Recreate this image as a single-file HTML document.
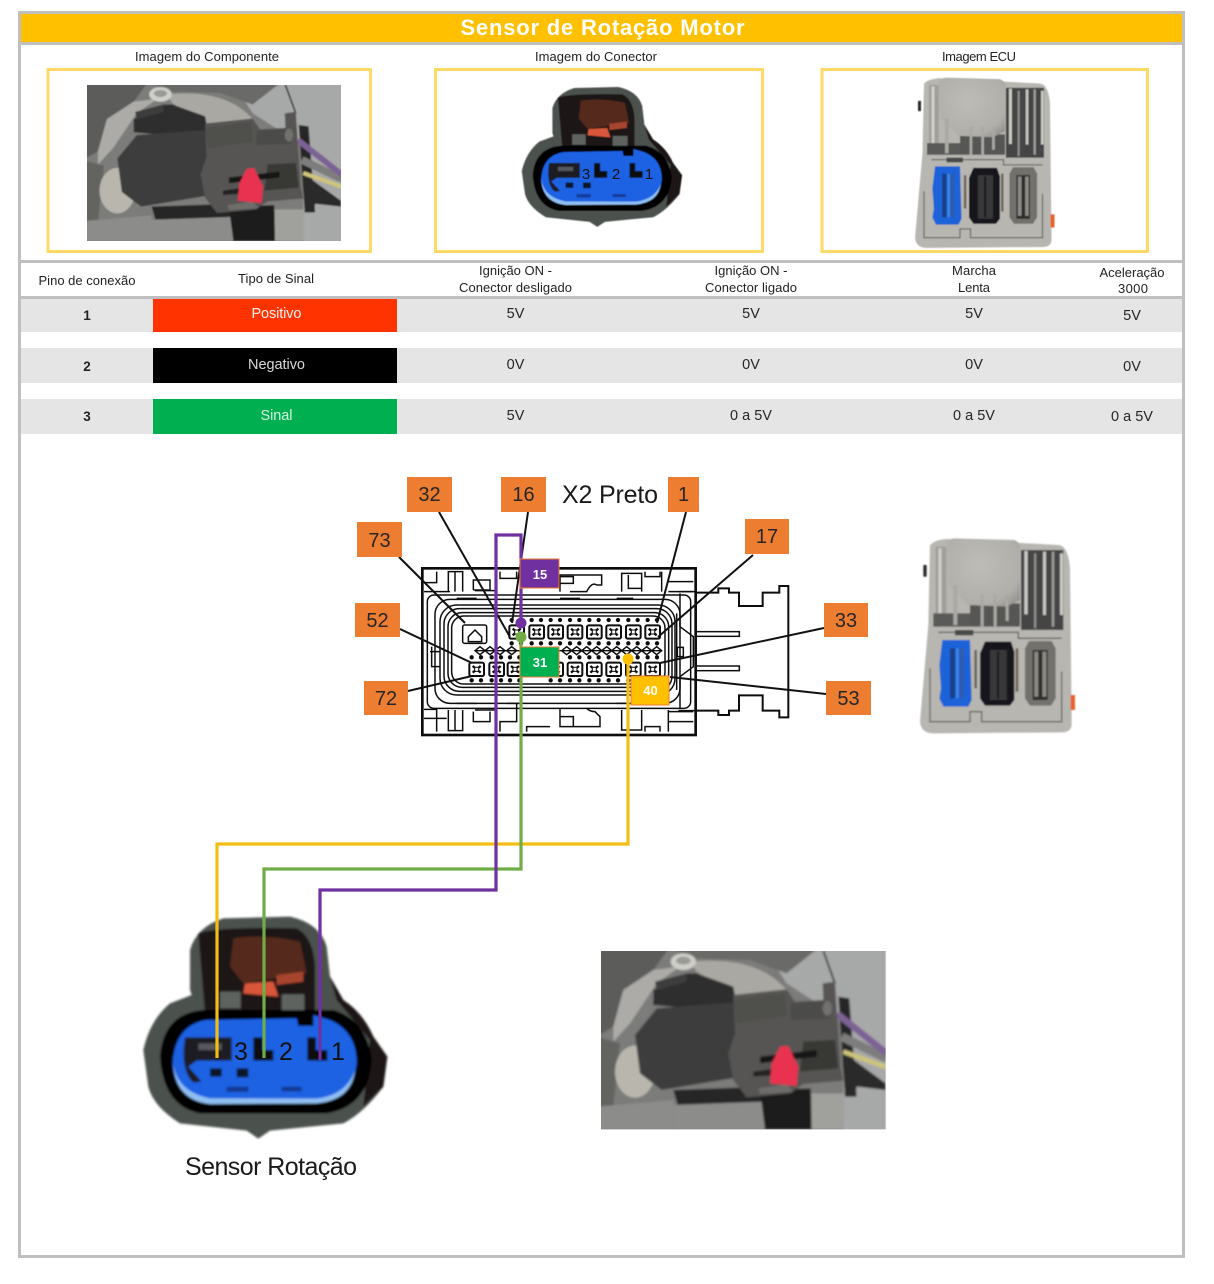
<!DOCTYPE html>
<html><head><meta charset="utf-8"><style>
html,body{margin:0;padding:0;background:#fff}
svg{display:block}
text{font-family:"Liberation Sans",sans-serif;fill:#222}
.t{font-size:13px;text-anchor:middle}
.v{font-size:14.5px;text-anchor:middle;fill:#262626}
.h{font-size:13.500px;text-anchor:middle}
.o{font-size:20px;text-anchor:middle;fill:#262626}
.s{font-size:13px;font-weight:bold;text-anchor:middle;fill:#fff}
</style></head><body>
<svg width="1214" height="1284" viewBox="0 0 1214 1284" xmlns="http://www.w3.org/2000/svg">
<defs>
<filter id="b1" x="-5%" y="-5%" width="110%" height="110%"><feGaussianBlur stdDeviation="3"/></filter>
<filter id="b2" x="-5%" y="-5%" width="110%" height="110%"><feGaussianBlur stdDeviation="2"/></filter>
<filter id="b3" x="-2%" y="-2%" width="104%" height="104%"><feGaussianBlur stdDeviation="1.100"/></filter>
<radialGradient id="lid" cx=".45" cy=".4" r=".75"><stop offset="0" stop-color="#bdbcb7"/><stop offset=".75" stop-color="#b0afaa"/><stop offset="1" stop-color="#8f8e89"/></radialGradient>
<clipPath id="pc"><rect x="33" y="33" width="854" height="535"/></clipPath>

<g id="photo"><g clip-path="url(#pc)"><g filter="url(#b1)">
<rect x="20" y="20" width="880" height="560" fill="#7c7c7a"/>
<polygon points="520,20 900,20 900,580 760,580 760,240 590,130" fill="#a7a8a8"/>
<polygon points="20,20 240,20 190,90 100,150 70,260 20,290" fill="#5c5c5a"/>
<polygon points="240,20 690,20 590,100 480,60 300,55" fill="#6a6a68"/>
<polygon points="190,90 270,80 200,130 120,250 70,305 70,260 100,150" fill="#acaba7"/>
<path d="M300,65 Q500,45 590,150 L430,170 L320,95Z" fill="#aaa8a2"/>
<polygon points="20,290 90,310 70,500 20,500" fill="#636361"/>
<polygon points="20,500 250,480 250,568 20,568" fill="#8c8c8a"/>
<ellipse cx="135" cy="395" rx="60" ry="78" fill="#b9b7ad"/>
<polygon points="190,150 290,100 320,100 430,140 440,195 300,205 190,195" fill="#2e2f2f"/>
<polygon points="195,125 290,100 290,125 200,150" fill="#3c3c3c"/>
<polygon points="135,285 200,205 432,188 442,412 215,450 150,400" fill="#3e3e3c"/>
<polygon points="250,450 525,440 525,490 265,502" fill="#282828"/>
<polygon points="250,495 525,485 525,568 250,568" fill="#8c8c8a"/>
<polygon points="510,450 662,445 665,568 525,568" fill="#1e1e1e"/>
<polygon points="665,460 762,460 762,568 665,568" fill="#a0a09c"/>
<polygon points="745,170 778,175 800,470 765,470" fill="#262626"/>
<polygon points="765,340 887,430 887,450 800,440 795,470 765,470" fill="#2c2c2c"/>
<line x1="755" y1="290" x2="890" y2="355" stroke="#7d7d7d" stroke-width="26"/>
<line x1="742" y1="222" x2="890" y2="340" stroke="#7d6295" stroke-width="20"/>
<line x1="760" y1="335" x2="890" y2="382" stroke="#cfc47a" stroke-width="14"/>
<line x1="700" y1="33" x2="735" y2="130" stroke="#161616" stroke-width="5"/>
<polygon points="430,165 590,148 615,185 700,180 698,130 735,125 752,385 760,422 640,432 600,460 470,472 430,420 415,340 435,280" fill="#565553"/>
<polygon points="605,190 700,182 720,235 600,240" fill="#4c4b49"/>
<polygon points="430,180 585,160 590,228 440,250" fill="#504f4c"/>
<polygon points="640,305 735,300 745,385 630,395" fill="#383836"/>
<polygon points="510,350 680,330 680,350 510,370" fill="#161616"/>
<polygon points="490,395 560,385 560,405 490,410" fill="#222"/>
<polygon points="505,445 590,432 610,455 510,462" fill="#6e6d6b"/>
<polygon points="570,320 595,318 625,380 620,438 540,430 545,370" fill="#e8304f"/>
<ellipse cx="280" cy="65" rx="38" ry="25" fill="#d0d0cb"/>
<ellipse cx="280" cy="62" rx="22" ry="12" fill="#9a9a96"/>
<ellipse cx="712" cy="205" rx="14" ry="22" fill="#72716e"/>
</g></g></g>

<g id="conn"><g filter="url(#b1)">
<path d="M180,270 L180,150 Q200,80 280,55 L480,50 Q570,70 590,140 L600,230 L640,300 Q700,340 730,410 L772,470 L760,560 Q700,640 640,670 L420,692 L385,716 L350,692 L150,670 Q70,620 55,560 L40,450 Q60,360 120,310 L185,285 Z" fill="#4c514e"/>
<path d="M600,230 L640,300 Q700,340 730,410 L772,470 L760,560 L700,620 L720,420 L620,300Z" fill="#1e1512"/>
<path d="M205,100 Q260,80 500,85 Q550,110 555,200 L555,340 L225,340Z" fill="#1a1513"/>
<path d="M310,115 Q400,100 510,125 L530,220 L340,250 L300,200Z" fill="#55291d"/>
<path d="M345,250 L430,245 L445,290 L340,280Z" fill="#d9573a"/>
<path d="M440,225 L520,215 L520,245 L440,255Z" fill="#a8452d"/>
<rect x="270" y="275" width="62" height="50" fill="#5e6360"/>
<rect x="455" y="283" width="68" height="50" fill="#5e6360"/>
<path d="M90,470 Q100,340 220,330 L610,330 Q710,360 725,480 Q715,620 590,640 L210,640 Q100,620 90,470Z" fill="#040404"/>
<path d="M128,490 Q135,375 230,360 L500,355 L505,378 L550,378 L550,345 L600,360 Q680,395 680,490 Q665,600 560,608 L240,610 Q135,600 128,490Z" fill="#1f62e3"/>
<path d="M130,490 Q140,575 240,595 L560,596 Q650,585 675,510 Q665,600 560,610 L240,612 Q135,600 130,490Z" fill="#8fc0f2"/>
<path d="M165,412 L305,412 L305,482 L200,482 L175,500 L215,545 L190,548 Q150,510 165,412Z" fill="#1c1e24"/>
<rect x="205" y="430" width="70" height="20" fill="#55585c"/>
<path d="M370,412 L398,412 L398,450 L430,450 L430,482 L370,482Z" fill="#070a10"/>
<path d="M532,412 L558,412 L558,450 L592,450 L592,482 L532,482Z" fill="#070a10"/>
<rect x="240" y="505" width="35" height="25" fill="#0d1526"/>
<rect x="320" y="505" width="35" height="27" fill="#0d1526"/>
<rect x="290" y="560" width="65" height="16" fill="#123a96"/>
<rect x="455" y="560" width="60" height="14" fill="#123a96"/>
</g></g>

<g id="ecu"><g filter="url(#b2)">
<path d="M75,62 Q85,45 125,42 L460,60 Q490,62 495,130 L500,600 Q498,622 470,622 L85,625 Q48,625 45,590 L70,300Z" fill="#b8b6b1"/>
<rect x="55" y="120" width="10" height="35" fill="#2c2c2c"/>
<rect x="92" y="65" width="32" height="210" fill="#a09f99"/>
<rect x="100" y="70" width="10" height="200" fill="#cfcec9"/>
<rect x="85" y="265" width="110" height="40" fill="#5a5a58"/>
<rect x="195" y="235" width="150" height="70" fill="#565654"/>
<path d="M125,58 Q130,40 150,40 L325,45 Q345,48 345,75 L345,225 L305,245 L190,240 L130,180Z" fill="url(#lid)"/>
<rect x="348" y="75" width="127" height="240" fill="#454544"/>
<rect x="358" y="78" width="10" height="190" fill="#c9c9c5"/><rect x="387" y="85" width="7" height="225" fill="#8f8e8b"/>
<rect x="414" y="80" width="9" height="190" fill="#c6c6c2"/><rect x="440" y="80" width="8" height="225" fill="#9b9a97"/>
<rect x="465" y="85" width="9" height="185" fill="#c9c9c5"/>
<rect x="227" y="208" width="9" height="100" fill="#aaa9a4"/><rect x="266" y="208" width="9" height="100" fill="#aaa9a4"/><rect x="302" y="208" width="9" height="80" fill="#aaa9a4"/>
<rect x="145" y="180" width="12" height="120" fill="#aaa9a4"/>
<path d="M100,322 H340 V340 H470 M75,430 V590 H195 V560 H230 V590 H350 L370,590 H470 V440" fill="none" stroke="#66665f" stroke-width="4"/>
<rect x="150" y="315" width="55" height="16" fill="#4a4a48"/>
<path d="M112,345 H195 L200,525 L190,545 H115 L103,520 L108,490 L103,420Z" fill="#1e63d9"/>
<rect x="135" y="370" width="15" height="150" fill="#1e4088"/><rect x="153" y="370" width="8" height="150" fill="#3d86e4"/><rect x="164" y="370" width="12" height="150" fill="#2f5cab"/>
<rect x="208" y="375" width="8" height="115" fill="#6d6558"/>
<rect x="332" y="370" width="8" height="130" fill="#6d6558"/>
<path d="M240,350 H318 L328,380 V525 L315,542 H240 L225,520 V385Z" fill="#17171a"/>
<rect x="255" y="375" width="50" height="150" fill="#37373a"/>
<rect x="276" y="380" width="6" height="140" fill="#121214"/>
<path d="M372,348 H440 L452,370 V520 L438,542 H375 L360,520 V370Z" fill="#73716c"/>
<rect x="383" y="375" width="45" height="150" fill="#2f2f2e"/>
<rect x="388" y="380" width="12" height="135" fill="#8c8a85"/><rect x="412" y="380" width="12" height="135" fill="#8c8a85"/>
<rect x="497" y="510" width="13" height="45" fill="#e8602c"/>
</g></g>

<g id="cell" fill="none" stroke="#111" stroke-width="6">
<rect x="-22" y="-20" width="44" height="40" rx="5"/>
<path d="M-12,-10 L12,10 M12,-10 L-12,10" stroke-width="7"/>
<rect x="-6" y="-6" width="12" height="12" fill="#fff" stroke-width="3"/>
</g>
<g id="dots" fill="#111">
<circle cx="-15" r="6.500"/><circle cx="13" r="6.500"/>
</g>
<g id="zig" fill="none" stroke="#111" stroke-width="4.500"><path d="M-15,0 L0,-12 L15,0 L0,12Z"/></g>
</defs>

<!-- frame -->
<rect x="19.500" y="12.500" width="1164" height="1244" fill="#fff" stroke="#bfbfbf" stroke-width="3"/>
<rect x="21" y="14" width="1161" height="28" fill="#ffc000"/>
<rect x="21" y="42" width="1161" height="3" fill="#bfbfbf"/>
<text x="602.500" y="35" font-size="22" font-weight="bold" text-anchor="middle" style="fill:#fff" textLength="284" lengthAdjust="spacing">Sensor de Rotação Motor</text>

<text x="207" y="61" class="t" textLength="144">Imagem do Componente</text>
<text x="596" y="61" class="t" textLength="122">Imagem do Conector</text>
<text x="979" y="61" class="t" textLength="74">Imagem ECU</text>

<rect x="48" y="69.500" width="322.500" height="182" fill="none" stroke="#ffd966" stroke-width="3"/>
<rect x="435.500" y="69.500" width="327" height="182" fill="none" stroke="#ffd966" stroke-width="3"/>
<rect x="822" y="69.500" width="325.500" height="182" fill="none" stroke="#ffd966" stroke-width="3"/>

<use href="#photo" transform="translate(77.200,75.400) scale(.2974,.2916)"/>
<use href="#conn" transform="translate(513,76.500) scale(.219,.21)"/>
<text x="586" y="179" font-size="15" text-anchor="middle" style="fill:#111">3</text>
<text x="616" y="179" font-size="15" text-anchor="middle" style="fill:#111">2</text>
<text x="649" y="179" font-size="15" text-anchor="middle" style="fill:#111">1</text>
<use href="#ecu" transform="translate(901.500,66) scale(.3,.291)"/>

<!-- table -->
<rect x="21" y="260" width="1161" height="3" fill="#bfbfbf"/>
<rect x="21" y="296" width="1161" height="3" fill="#bfbfbf"/>
<rect x="21" y="299" width="1161" height="33" fill="#e5e5e5"/>
<rect x="21" y="348" width="1161" height="35" fill="#e5e5e5"/>
<rect x="21" y="399" width="1161" height="35" fill="#e5e5e5"/>
<rect x="153" y="299" width="244" height="33" fill="#ff3300"/>
<rect x="153" y="348" width="244" height="35" fill="#000"/>
<rect x="153" y="399" width="244" height="35" fill="#00b050"/>

<text x="87" y="285" class="t" textLength="97">Pino de conexão</text>
<text x="276" y="283" class="t" textLength="76">Tipo de Sinal</text>
<text x="515.500" y="275" class="t" textLength="73">Ignição ON -</text>
<text x="515.500" y="292" class="t" textLength="113">Conector desligado</text>
<text x="751" y="275" class="t" textLength="73">Ignição ON -</text>
<text x="751" y="292" class="t" textLength="92">Conector ligado</text>
<text x="974" y="275" class="t" textLength="44">Marcha</text>
<text x="974" y="292" class="t" textLength="32">Lenta</text>
<text x="1132" y="277" class="t" textLength="65">Aceleração</text>
<text x="1133" y="293" class="t" textLength="30">3000</text>

<text x="87" y="320" class="h" font-weight="bold">1</text>
<text x="276.500" y="318" class="v" style="fill:#f2f2f2" textLength="50">Positivo</text>
<text x="515.500" y="318" class="v">5V</text><text x="751" y="318" class="v">5V</text><text x="974" y="318" class="v">5V</text><text x="1132" y="320" class="v">5V</text>

<text x="87" y="371" class="h" font-weight="bold">2</text>
<text x="276.500" y="369" class="v" style="fill:#d8d8d8" textLength="57">Negativo</text>
<text x="515.500" y="369" class="v">0V</text><text x="751" y="369" class="v">0V</text><text x="974" y="369" class="v">0V</text><text x="1132" y="371" class="v">0V</text>

<text x="87" y="421" class="h" font-weight="bold">3</text>
<text x="276.500" y="420" class="v" style="fill:#d8f0e0" textLength="32">Sinal</text>
<text x="515.500" y="420" class="v">5V</text><text x="751" y="420" class="v">0 a 5V</text><text x="974" y="420" class="v">0 a 5V</text><text x="1132" y="421" class="v">0 a 5V</text>

<!-- X2 connector drawing -->
<g transform="translate(340,460) scale(.33333)"><g filter="url(#b3)">
<g fill="none" stroke="#111" stroke-width="4.500">
<rect x="262" y="405" width="790" height="340" rx="20"/>
<rect x="285" y="418" width="735" height="312" rx="45"/>
<rect x="300" y="435" width="705" height="270" rx="50"/>
<rect x="312" y="446" width="684" height="248" rx="46"/>
<rect x="324" y="458" width="662" height="224" rx="42"/>
<rect x="335" y="468" width="640" height="204" rx="36"/>
<path d="M252,368 H290 V335 M325,395 V335 H368 V395 M345,335 V395 M400,390 V360 H450 V390 H400 M405,392 H470 V345 M480,335 V355 H530 V335 M660,395 V345 H785 V375 L770,375 Q755,365 740,395 H690 M660,350 H700 V370 H660 M845,395 V340 H905 V395 M865,345 V385 H905 M915,335 V350 H960 V335 M965,395 V335 M985,395 H1060 M985,365 H1060 M350,415 H410 M660,415 H720 M830,415 H880 M252,395 H330"/>
<path d="M252,748 H290 V815 M325,750 V812 H368 V750 M345,750 V812 M400,755 V785 H450 V755 M405,750 H470 V810 M480,815 V785 H530 V730 M500,730 H540 M660,745 V800 H780 V770 L765,755 Q750,755 740,745 M660,770 L700,770 V800 M845,750 V810 H905 V750 M915,815 V800 H960 V815 M985,750 V815 M985,755 H1060 M985,785 H1060 M560,815 V800 H630 M350,730 H410 M830,730 H880 M252,775 H320"/>
<rect x="368" y="495" width="72" height="55" rx="6"/>
<path d="M385,530 L405,510 L425,530 V545 H385Z"/>
<path d="M270,575 H300 M1012,562 H1030 V590 H1012V562 M275,560 V620 H300 M1010,460 V690"/>
<rect x="1068" y="515" width="130" height="14"/>
<rect x="1068" y="618" width="130" height="14"/>
<path d="M1065,395 L1015,395 M1065,752 H1015 M1020,400 V500 L1060,530 V620 L1020,650 V745"/>
<path d="M405,572 H965" stroke-width="4"/>
</g>
<g fill="none" stroke="#111">
<rect x="247" y="325" width="820" height="500" stroke-width="8"/>
<path stroke-width="6" d="M1067,398 H1135 V385 H1167 V398 H1197 V438 H1268 V398 H1318 V378 H1345 V772 H1318 V752 H1268 V706 H1197 V752 H1167 V765 H1135 V752 H1067"/>
</g>
<use href="#cell" x="530" y="516"/><use href="#cell" x="590" y="516"/><use href="#cell" x="647" y="516"/><use href="#cell" x="705" y="516"/><use href="#cell" x="763" y="516"/><use href="#cell" x="821" y="516"/><use href="#cell" x="880" y="516"/><use href="#cell" x="938" y="516"/>
<use href="#cell" x="410" y="628"/><use href="#cell" x="470" y="628"/><use href="#cell" x="525" y="628"/><use href="#cell" x="647" y="628"/><use href="#cell" x="705" y="628"/><use href="#cell" x="763" y="628"/><use href="#cell" x="821" y="628"/><use href="#cell" x="880" y="628"/><use href="#cell" x="938" y="628"/>
<use href="#dots" x="530" y="480"/><use href="#dots" x="590" y="480"/><use href="#dots" x="647" y="480"/><use href="#dots" x="705" y="480"/><use href="#dots" x="763" y="480"/><use href="#dots" x="821" y="480"/><use href="#dots" x="880" y="480"/><use href="#dots" x="938" y="480"/>
<use href="#dots" x="530" y="550"/><use href="#dots" x="590" y="550"/><use href="#dots" x="647" y="550"/><use href="#dots" x="705" y="550"/><use href="#dots" x="763" y="550"/><use href="#dots" x="821" y="550"/><use href="#dots" x="880" y="550"/><use href="#dots" x="938" y="550"/>
<use href="#dots" x="410" y="592"/><use href="#dots" x="470" y="592"/><use href="#dots" x="525" y="592"/><use href="#dots" x="705" y="592"/><use href="#dots" x="763" y="592"/><use href="#dots" x="821" y="592"/><use href="#dots" x="880" y="592"/><use href="#dots" x="938" y="592"/>
<use href="#dots" x="410" y="661"/><use href="#dots" x="470" y="661"/><use href="#dots" x="525" y="661"/><use href="#dots" x="647" y="661"/><use href="#dots" x="705" y="661"/><use href="#dots" x="763" y="661"/><use href="#dots" x="821" y="661"/><use href="#dots" x="880" y="661"/><use href="#dots" x="938" y="661"/>
<use href="#zig" x="420" y="572"/><use href="#zig" x="450" y="572"/><use href="#zig" x="480" y="572"/><use href="#zig" x="515" y="572"/><use href="#zig" x="680" y="572"/><use href="#zig" x="710" y="572"/><use href="#zig" x="740" y="572"/><use href="#zig" x="770" y="572"/><use href="#zig" x="800" y="572"/><use href="#zig" x="830" y="572"/><use href="#zig" x="860" y="572"/><use href="#zig" x="890" y="572"/><use href="#zig" x="920" y="572"/><use href="#zig" x="950" y="572"/>
</g></g>

<!-- leader lines -->
<g stroke="#111" stroke-width="2" fill="none">
<line x1="439" y1="512" x2="510" y2="637"/>
<line x1="528" y1="512" x2="512" y2="623"/>
<line x1="686" y1="512" x2="657" y2="623"/>
<line x1="753" y1="555" x2="658" y2="637"/>
<line x1="399" y1="557" x2="465" y2="623"/>
<line x1="400" y1="629" x2="472" y2="663"/>
<line x1="408" y1="691" x2="472" y2="676"/>
<line x1="824" y1="628" x2="660" y2="663"/>
<line x1="670" y1="677" x2="826" y2="694"/>
</g>

<!-- orange labels -->
<g fill="#ed7d31">
<rect x="407" y="477" width="45" height="35"/><rect x="501" y="477" width="45" height="35"/><rect x="668" y="477" width="31" height="35"/>
<rect x="357" y="522" width="45" height="35"/><rect x="745" y="519" width="44" height="35"/>
<rect x="355" y="603" width="45" height="34"/><rect x="364" y="681" width="44" height="34"/>
<rect x="824" y="603" width="44" height="34"/><rect x="826" y="681" width="45" height="34"/>
</g>
<text x="429.500" y="501" class="o">32</text><text x="523.500" y="501" class="o">16</text><text x="683.500" y="501" class="o">1</text>
<text x="379.500" y="547" class="o">73</text><text x="767" y="543" class="o">17</text>
<text x="377.500" y="627" class="o">52</text><text x="386" y="705" class="o">72</text>
<text x="846" y="627" class="o">33</text><text x="848.500" y="705" class="o">53</text>
<text x="562" y="503" font-size="25" textLength="96" style="fill:#1a1a1a">X2 Preto</text>

<use href="#ecu" transform="translate(905,525) scale(.33333)"/>
<use href="#photo" transform="translate(590,940) scale(.33333)"/>
<use href="#conn" transform="translate(130,900) scale(.33333)"/>
<text x="241" y="1060" font-size="25" text-anchor="middle" style="fill:#111">3</text>
<text x="286" y="1060" font-size="25" text-anchor="middle" style="fill:#111">2</text>
<text x="338" y="1060" font-size="25" text-anchor="middle" style="fill:#111">1</text>
<text x="185" y="1175" font-size="25" textLength="172" style="fill:#1a1a1a">Sensor Rotação</text>

<!-- wires -->
<g fill="none" stroke-width="3.200" stroke-linejoin="miter">
<path d="M628,659 V844 H217 V1058" stroke="#f4bd14"/>
<path d="M521,637 V869 H264 V1058" stroke="#70ad47"/>
<path d="M521,623 V535 H496 V890 H320 V1060" stroke="#7030a0"/>
</g>
<rect x="520" y="559" width="39" height="29" fill="#7030a0" stroke="#ed7d31"/>
<rect x="520" y="647" width="39" height="30" fill="#00b050" stroke="#ed7d31"/>
<rect x="631" y="676" width="38" height="29" fill="#ffc000" stroke="#ed7d31"/>
<circle cx="521" cy="623" r="5.500" fill="#7030a0"/>
<circle cx="521" cy="637" r="5.500" fill="#70ad47"/>
<circle cx="628" cy="659" r="5.500" fill="#ffc000"/>
<text x="540" y="579" class="s">15</text>
<text x="540" y="667" class="s">31</text>
<text x="650.500" y="695" class="s">40</text>
</svg>
</body></html>
